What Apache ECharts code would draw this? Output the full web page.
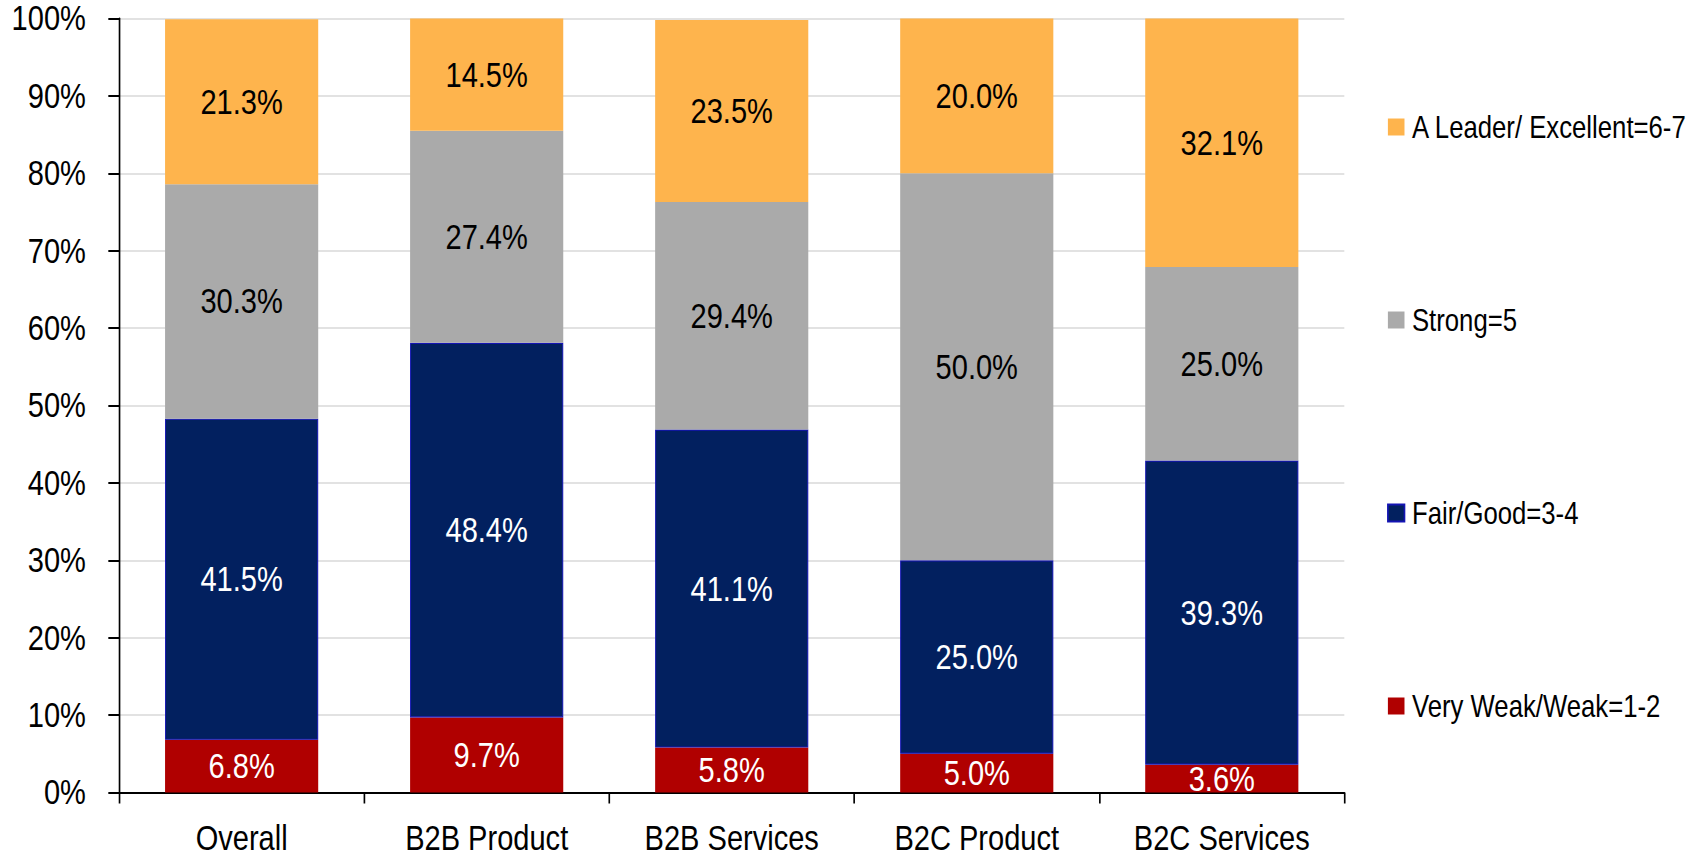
<!DOCTYPE html>
<html>
<head>
<meta charset="utf-8">
<title>Rating distribution by segment</title>
<script src="https://cdn.jsdelivr.net/npm/echarts@6/dist/echarts.min.js"></script>
<style>
  html, body { margin: 0; padding: 0; background: #fff; overflow: hidden; }
  #frame { width: 1700px; height: 858px; overflow: hidden; }
  /* chart is laid out wider and narrowed horizontally for the condensed type look */
  #chart { width: 2048px; height: 858px; transform: scaleX(0.830078); transform-origin: 0 0; }
</style>
</head>
<body>
<div id="frame"><div id="chart"></div></div>
<script>
const categories = ['Overall', 'B2B Product', 'B2B Services', 'B2C Product', 'B2C Services'];

const veryWeak = [6.8, 9.7, 5.8, 5.0, 3.6];
const fairGood = [41.5, 48.4, 41.1, 25.0, 39.3];
const strong   = [30.3, 27.4, 29.4, 50.0, 25.0];
const leader   = [21.3, 14.5, 23.5, 20.0, 32.1];

const yTicks = { min: 0, max: 100, interval: 10 };

const FONT = '"Liberation Sans", Arial, Helvetica, sans-serif';

function segment(name, data, color, labelColor, extraStyle) {
  return {
    name: name,
    type: 'bar',
    stack: 'total',
    data: data,
    barWidth: '62.5%',
    itemStyle: Object.assign({ color: color }, extraStyle || {}),
    label: {
      show: true,
      position: 'inside',
      formatter: p => p.value.toFixed(1) + '%',
      color: labelColor,
      fontFamily: FONT,
      fontSize: 35
    },
    emphasis: { disabled: true }
  };
}

const chart = echarts.init(document.getElementById('chart'), null, { renderer: 'svg' });

chart.setOption({
  animation: false,
  backgroundColor: '#ffffff',
  textStyle: { fontFamily: FONT },
  grid: { left: 143.5, right: 428.5, top: 18.5, bottom: 65.5, containLabel: false },
  legend: {
    orient: 'vertical',
    left: 1666,
    top: 106.5,
    itemWidth: 20,
    itemHeight: 17,
    itemGap: 162,
    icon: 'rect',
    data: ['A Leader/ Excellent=6-7', 'Strong=5', 'Fair/Good=3-4', 'Very Weak/Weak=1-2'],
    textStyle: { fontFamily: FONT, fontSize: 31, color: '#000', lineHeight: 30, padding: [0, 0, 0, 4] },
    selectedMode: false
  },
  xAxis: {
    type: 'category',
    data: categories,
    boundaryGap: true,
    axisLine: { lineStyle: { color: '#000', width: 2 } },
    axisTick: { show: true, alignWithLabel: false, length: 11, lineStyle: { color: '#000', width: 2 } },
    axisLabel: { color: '#000', fontFamily: FONT, fontSize: 35, margin: 28 },
    splitLine: { show: false }
  },
  yAxis: {
    type: 'value',
    min: yTicks.min,
    max: yTicks.max,
    interval: yTicks.interval,
    axisLine: { show: true, lineStyle: { color: '#000', width: 2 } },
    axisTick: { show: true, length: 13, lineStyle: { color: '#000', width: 2 } },
    axisLabel: { color: '#000', fontFamily: FONT, fontSize: 35, margin: 40, formatter: '{value}%' },
    splitLine: { show: true, lineStyle: { color: '#d9d9d9', width: 1.5 } }
  },
  series: [
    segment('Very Weak/Weak=1-2', veryWeak, '#b00000', '#ffffff'),
    segment('Fair/Good=3-4', fairGood, '#02205f', '#ffffff', { borderColor: '#1414b4', borderWidth: 1.2 }),
    segment('Strong=5', strong, '#aaaaaa', '#000000'),
    segment('A Leader/ Excellent=6-7', leader, '#feb44d', '#000000')
  ]
});
</script>
</body>
</html>
